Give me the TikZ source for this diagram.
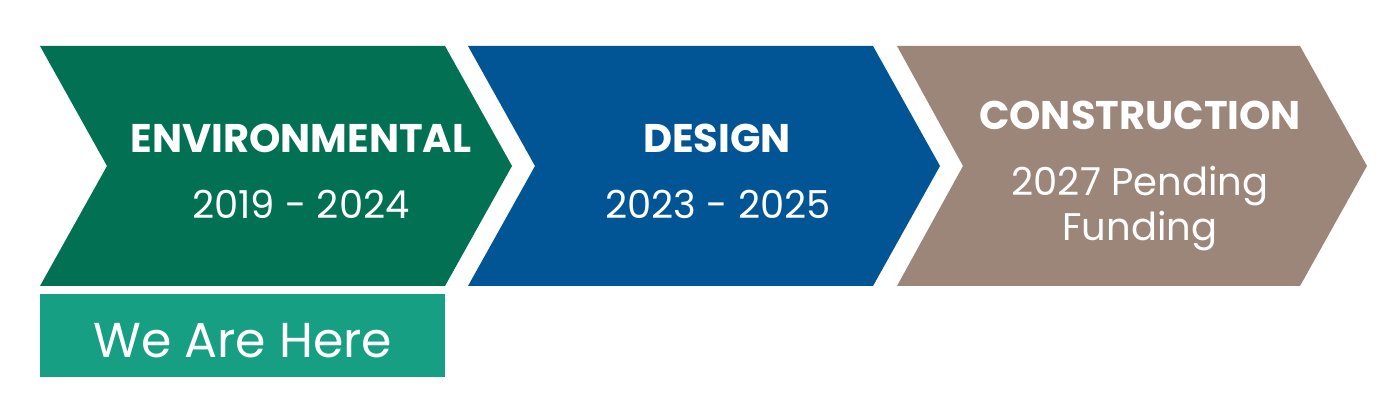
\documentclass[tikz,border=0pt]{standalone}
\usepackage{fontspec}
\setmainfont{Poppins}
\usetikzlibrary{positioning}
\definecolor{forest}{RGB}{2, 112, 82}
\definecolor{navy}{RGB}{2, 85, 149}
\definecolor{taupe}{RGB}{155, 134, 121}
\definecolor{greensea}{RGB}{22, 159, 131}

\begin{document}
\begin{tikzpicture}[x=1pt, y=1pt,
    phase/.style={text=white, font=\fontsize{40}{46}\selectfont\bfseries, inner sep=0pt},
    years/.style={text=white, font=\fontsize{38.5}{45}\selectfont, align=center, inner sep=0pt}]
            \useasboundingbox (0,0) rectangle (1398,417);
            \fill[white] (0,0) rectangle (1398,417);
            % chevrons
            \fill[forest] (  40,371) -- ( 445,371) -- ( 512,251) -- ( 445,131) -- (  40,131) -- ( 107,251) -- cycle;
            \fill[navy]   ( 468,371) -- ( 873,371) -- ( 940,251) -- ( 873,131) -- ( 468,131) -- ( 535,251) -- cycle;
            \fill[taupe]  ( 897,371) -- (1300,371) -- (1367,251) -- (1300,131) -- ( 897,131) -- ( 963,251) -- cycle;
            % texts
            \node[phase] (envTitle)    at ( 301,279) {ENVIRONMENTAL};
            \node[years] (envYears)    at ( 301,213) {2019 - 2024};
            \node[phase] (designTitle) at ( 717,279) {DESIGN};
            \node[years] (designYears) at ( 718,213) {2023 - 2025};
            \node[phase] (buildTitle)  at (1140,302) {CONSTRUCTION};
            \node[years] (buildYears)  at (1140,208) {2027 Pending\\Funding};
            % marker
            \node[fill=greensea, minimum width=405pt, minimum height=83pt, inner sep=0pt, anchor=north west] (here) at (40,123) {};
            \node[text=white, font=\fontsize{49}{55}\selectfont, inner sep=0pt] (hereText) at ([yshift=-5pt]here.center) {We Are Here};
\end{tikzpicture}
\end{document}
